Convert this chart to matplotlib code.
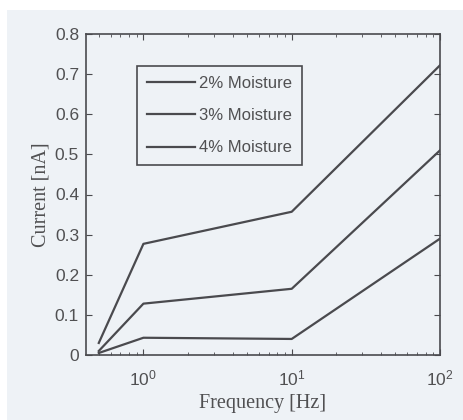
import matplotlib
matplotlib.use("Agg")
import matplotlib.pyplot as plt
from matplotlib.patches import Rectangle

freq = [0.5, 1, 10, 100]
moist2 = [0.005, 0.043, 0.040, 0.29]
moist3 = [0.010, 0.128, 0.165, 0.51]
moist4 = [0.030, 0.277, 0.357, 0.722]
labels = ["2% Moisture", "3% Moisture", "4% Moisture"]
yticks = [0, 0.1, 0.2, 0.3, 0.4, 0.5, 0.6, 0.7, 0.8]
ytick_labels = ["0", "0.1", "0.2", "0.3", "0.4", "0.5", "0.6", "0.7", "0.8"]

bg = "#eef2f6"
dark = "#4a4a4e"
W, H = 464, 420
fig = plt.figure(figsize=(W / 100, H / 100), dpi=100, facecolor=bg)
# white scan borders
fig.patches.append(Rectangle((0, 1 - 10 / H), 1, 10 / H, transform=fig.transFigure,
                             facecolor="white", edgecolor="none", zorder=-1))
fig.patches.append(Rectangle((0, 0), 7 / W, 1, transform=fig.transFigure,
                             facecolor="white", edgecolor="none", zorder=-1))

ax = fig.add_axes([86 / W, 1 - 355 / H, (440 - 86) / W, (355 - 34) / H])
ax.set_facecolor(bg)
ax.plot(freq, moist2, color=dark, lw=1.6, label=labels[0])
ax.plot(freq, moist3, color=dark, lw=1.6, label=labels[1])
ax.plot(freq, moist4, color=dark, lw=1.6, label=labels[2])
ax.set_xscale("log")
ax.set_xlim(0.41, 100)
ax.set_ylim(0, 0.8)
ax.set_yticks(yticks)
ax.set_yticklabels(ytick_labels)
ax.tick_params(which="both", direction="in", top=True, right=True, colors=dark,
               labelsize=12.5, labelcolor="#505052")
ax.tick_params(which="major", length=4)
ax.tick_params(which="minor", length=2.5)
ax.tick_params(axis="x", which="major", pad=10)
ax.tick_params(axis="y", which="major", pad=5)
for lab in ax.get_xticklabels() + ax.get_yticklabels():
    lab.set_fontfamily("Liberation Sans")
for s in ax.spines.values():
    s.set_color(dark)
    s.set_linewidth(1.2)
ax.set_xlabel("Frequency [Hz]", family="Liberation Serif", fontsize=14.5,
              color="#505052", labelpad=4)
ax.set_ylabel("Current [nA]", family="Liberation Serif", fontsize=14.5,
              color="#505052", labelpad=3)
leg = ax.legend(loc="upper left", bbox_to_anchor=(0.144, 0.900), frameon=True,
                fancybox=False, edgecolor=dark, facecolor=bg, framealpha=1,
                prop={"family": "Liberation Sans", "size": 12},
                handlelength=2.9, handletextpad=0.25, labelspacing=1.03,
                borderpad=0.6, borderaxespad=0)
leg.get_frame().set_linewidth(1.2)
for t in leg.get_texts():
    t.set_color("#505052")
fig.savefig("out.png", dpi=100, facecolor=bg)
